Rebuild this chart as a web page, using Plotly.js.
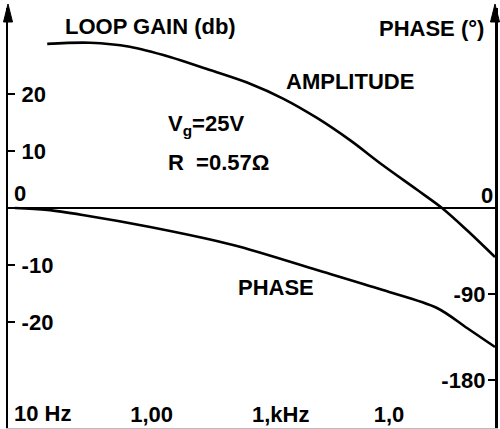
<!DOCTYPE html>
<html>
<head>
<meta charset="utf-8">
<script src="https://cdn.plot.ly/plotly-3.0.1.min.js"></script>
<style>html,body{margin:0;padding:0;background:#fff;}</style>
</head>
<body>
<div id="chart" style="width:500px;height:429px;"></div>
<script>
// Loop gain (amplitude) curve
const ampFreq = [21, 47, 100, 214, 456, 973, 1815, 3450, 6440, 12000, 22900, 36700, 58900, 100000];
const ampDb   = [28.8, 29.0, 28.3, 26.5, 24.2, 21.8, 19.2, 15.8, 11.9, 7.5, 3.2, 0, -3.9, -8.6];
// Phase curve
const phaseFreq = [11.4, 21, 41, 147, 705, 3450, 12000, 33400, 58900, 100000];
const phaseDeg  = [0, -2, -7.3, -19.9, -38.7, -64.9, -85.9, -104.7, -125.7, -145.5];
// Tick labels
const xTickVals = [10, 100, 1000, 10000];
const xTickText = ["10 Hz", "1,00", "1,kHz", "1,0"];
const dbTickVals = [20, 10, -10, -20];
const dbTickText = ["20", "10", "-10", "-20"];
const phTickVals = [-90, -180];
const phTickText = ["-90", "-180"];

const W = 500, H = 429, ML = 8, MR = 5, MT = 8, MB = 1;
const PW = W - ML - MR, PH = H - MT - MB;
const px = x => (x - ML) / PW;
const py = y => 1 - (y - MT) / PH;

const FONT = {family: "Liberation Sans, Arial, sans-serif", size: 22, color: "#000", weight: "bold"};
const zeroY = 208;          // pixel row of 0 dB / 0 deg
const dbPx = 5.7;           // px per dB
const degPx = 0.955;        // px per degree

const traces = [
  {x: ampFreq, y: ampDb, type: "scatter", mode: "lines", line: {color: "#000", width: 2.6, shape: "spline", smoothing: 0.9}, yaxis: "y", hoverinfo: "skip"},
  {x: phaseFreq, y: phaseDeg, type: "scatter", mode: "lines", line: {color: "#000", width: 2.6, shape: "spline", smoothing: 0.9}, yaxis: "y2", hoverinfo: "skip"}
];

const ann = (text, x, y, xanchor) => ({text, x: px(x), y: py(y), xref: "paper", yref: "paper", showarrow: false, xanchor: xanchor || "center", yanchor: "middle", font: FONT});

const arrow = x => ({
  type: "path", xref: "paper", yref: "paper",
  path: `M ${px(x)},${py(4)} L ${px(x - 4.5)},${py(22)} L ${px(x + 4.5)},${py(22)} Z`,
  fillcolor: "#000", line: {color: "#000", width: 1}
});

const layout = {
  width: W, height: H,
  margin: {l: ML, r: MR, t: MT, b: MB, pad: 0},
  paper_bgcolor: "#fff", plot_bgcolor: "#fff",
  showlegend: false,
  font: FONT,
  xaxis: {
    type: "log", range: [1, 5],
    // first label (at the left edge) is drawn as an annotation below
    tickvals: xTickVals.slice(1), ticktext: xTickText.slice(1),
    ticks: "", ticklabelposition: "inside right",
    showgrid: false, zeroline: false,
    showline: true, linecolor: "#bbb", linewidth: 1,
    tickfont: FONT
  },
  yaxis: {
    range: [-(H - MB - zeroY) / dbPx, (zeroY - MT) / dbPx],
    tickvals: dbTickVals, ticktext: dbTickText,
    ticks: "inside", ticklen: 7, tickwidth: 2, tickcolor: "#000",
    ticklabelposition: "inside", ticklabelstandoff: 8,
    showgrid: false,
    zeroline: true, zerolinecolor: "#000", zerolinewidth: 2,
    showline: true, linecolor: "#000", linewidth: 2.5,
    tickfont: FONT
  },
  yaxis2: {
    overlaying: "y", side: "right",
    range: [-(H - MB - zeroY) / degPx, (zeroY - MT) / degPx],
    tickvals: phTickVals, ticktext: phTickText,
    ticks: "inside", ticklen: 7, tickwidth: 2, tickcolor: "#000",
    ticklabelposition: "inside", ticklabelstandoff: 4,
    showgrid: false, zeroline: false,
    showline: true, linecolor: "#000", linewidth: 2.5,
    tickfont: FONT
  },
  shapes: [arrow(8), arrow(495)],
  annotations: [
    ann(xTickText[0], 12, 413, "left"),
    ann("LOOP GAIN (db)", 150, 27),
    ann("PHASE (°)", 431, 28),
    ann("AMPLITUDE", 350, 81),
    ann("PHASE", 276, 287),
    ann("V<sub>g</sub>=25V", 166, 125, "left"),
    ann("R  =0.57Ω", 166, 162, "left"),
    ann("0", 20, 193),
    ann("0", 487, 195)
  ]
};

Plotly.newPlot("chart", traces, layout, {staticPlot: true, displayModeBar: false});
</script>
</body>
</html>
